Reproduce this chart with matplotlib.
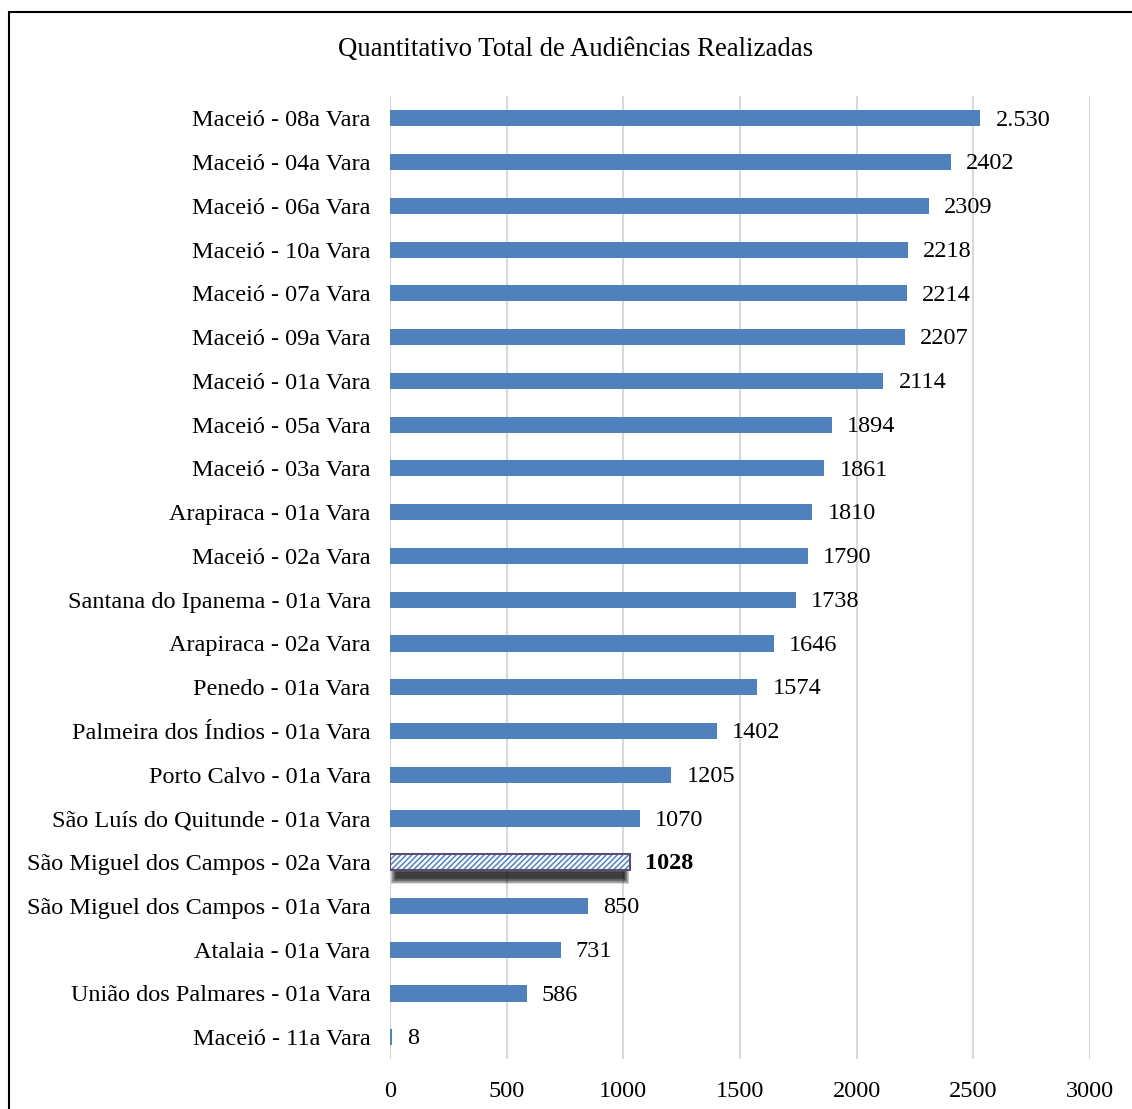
import numpy as np
import matplotlib
matplotlib.use("Agg")
import matplotlib.pyplot as plt
from matplotlib.patches import Rectangle

# Audiências por vara (de cima para baixo)
varas = [
    "Maceió - 08a Vara", "Maceió - 04a Vara", "Maceió - 06a Vara",
    "Maceió - 10a Vara", "Maceió - 07a Vara", "Maceió - 09a Vara",
    "Maceió - 01a Vara", "Maceió - 05a Vara", "Maceió - 03a Vara",
    "Arapiraca - 01a Vara", "Maceió - 02a Vara", "Santana do Ipanema - 01a Vara",
    "Arapiraca - 02a Vara", "Penedo - 01a Vara", "Palmeira dos Índios - 01a Vara",
    "Porto Calvo - 01a Vara", "São Luís do Quitunde - 01a Vara",
    "São Miguel dos Campos - 02a Vara", "São Miguel dos Campos - 01a Vara",
    "Atalaia - 01a Vara", "União dos Palmares - 01a Vara", "Maceió - 11a Vara",
]
audiencias = [2530, 2402, 2309, 2218, 2214, 2207, 2114, 1894, 1861, 1810, 1790,
              1738, 1646, 1574, 1402, 1205, 1070, 1028, 850, 731, 586, 8]
rotulos = ["2.530"] + [str(v) for v in audiencias[1:]]
destaque = "São Miguel dos Campos - 02a Vara"
xticks = [0, 500, 1000, 1500, 2000, 2500, 3000]

plt.rcParams['font.family'] = ['Liberation Serif', 'DejaVu Serif']
plt.rcParams['hatch.linewidth'] = 1.1

fig = plt.figure(figsize=(11.32, 11.09), dpi=100)
ax = fig.add_axes([0.3445, 0.045, 0.6185, 0.868])

y = np.arange(len(varas))
h = 0.37
blue = "#4F81BD"
fs = 17.5
for i, (nome, v) in enumerate(zip(varas, audiencias)):
    if nome == destaque:
        # sombra difusa abaixo da barra destacada (camadas sobrepostas)
        for k in range(10):
            ax.barh(i + 0.30, v - 6 - k * 5, left=3 + k * 2.5,
                    height=0.40 - k * 0.03, color="black", alpha=0.13,
                    linewidth=0, zorder=2)
        ax.barh(i, v, height=h, color="white", edgecolor=blue, hatch="//////",
                linewidth=0, zorder=3)
        ax.barh(i, v, height=h, fill=False, edgecolor="#5F4B7A", linewidth=1.5, zorder=4)
        ax.text(v + 65, i + 0.04, rotulos[i], va="center", ha="left", fontsize=fs,
                fontweight="bold", zorder=5)
    else:
        ax.barh(i, v, height=h, color=blue, linewidth=0, zorder=3)
        ax.text(v + 65, i + 0.04, rotulos[i], va="center", ha="left", fontsize=fs,
                zorder=5)

ax.set_ylim(len(varas) - 0.5, -0.5)
ax.set_xlim(0, 3000)
ax.set_yticks(y)
ax.set_yticklabels(varas, fontsize=fs)
ax.set_xticks(xticks)
ax.set_xticklabels([str(t) for t in xticks], fontsize=fs)
ax.tick_params(axis="both", length=0)
ax.tick_params(axis="y", pad=14)
ax.tick_params(axis="x", pad=16)
ax.grid(axis="x", color="#D9D9D9", linewidth=1.5, zorder=0)
ax.set_axisbelow(True)
for s in ax.spines.values():
    s.set_visible(False)

fig.text(576 / 1132, 1 - 50 / 1109, "Quantitativo Total de Audiências Realizadas",
         ha="center", va="center", fontsize=19.3)

# moldura do gráfico
fig.patches.append(Rectangle((9 / 1132, -0.05), 1.2, 1 - 12 / 1109 + 0.05,
                             transform=fig.transFigure, fill=False,
                             edgecolor="black", linewidth=1.5))

fig.savefig("out.png", dpi=100)
